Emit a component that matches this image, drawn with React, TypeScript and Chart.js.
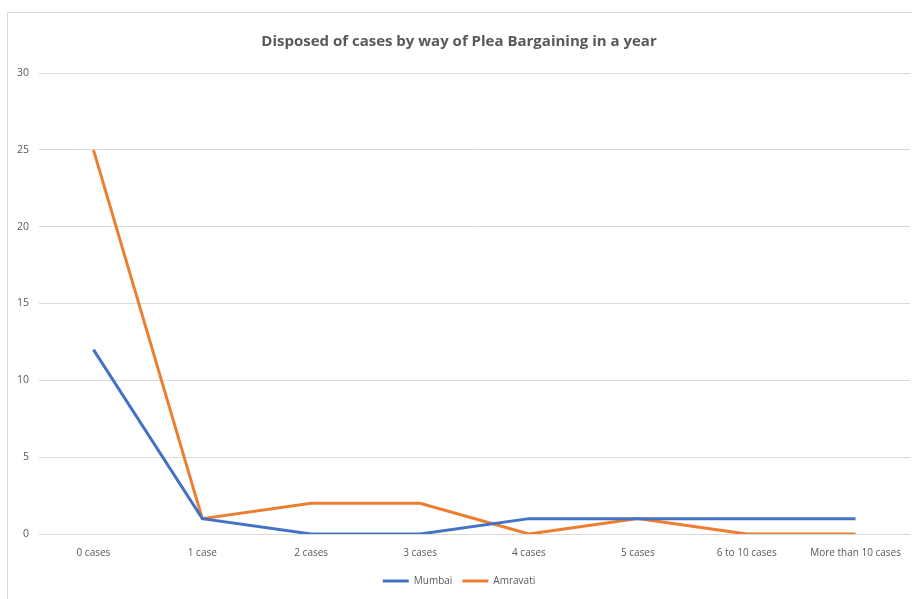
import React, { useEffect, useRef } from "react";
import { Chart, registerables } from "chart.js";

Chart.register(...registerables);

const categories = [
  "0 cases",
  "1 case",
  "2 cases",
  "3 cases",
  "4 cases",
  "5 cases",
  "6 to 10 cases",
  "More than 10 cases",
];
const mumbai = [12, 1, 0, 0, 1, 1, 1, 1];
const amravati = [25, 1, 2, 2, 0, 1, 0, 0];
const titleText = "Disposed of cases by way of Plea Bargaining in a year";

const FONT = "'Open Sans', 'Noto Sans', sans-serif";
const TEXT = "#595959";

export default function App() {
  const ref = useRef<HTMLCanvasElement | null>(null);
  useEffect(() => {
    if (!ref.current) return;
    const chart = new Chart(ref.current, {
      type: "line",
      data: {
        labels: categories,
        datasets: [
          {
            label: "Mumbai",
            data: mumbai,
            borderColor: "#4472C4",
            backgroundColor: "#4472C4",
            borderWidth: 3,
            pointRadius: 0,
            tension: 0,
          },
          {
            label: "Amravati",
            data: amravati,
            borderColor: "#ED7D31",
            backgroundColor: "#ED7D31",
            borderWidth: 3,
            pointRadius: 0,
            tension: 0,
          },
        ],
      },
      options: {
        animation: false,
        responsive: false,
        maintainAspectRatio: false,
        layout: { padding: { left: 8, right: 2, top: 12, bottom: 3 } },
        plugins: {
          title: {
            display: true,
            text: titleText,
            color: TEXT,
            font: { family: FONT, size: 15, weight: "bold" },
            padding: { top: 21, bottom: 22 },
          },
          legend: {
            position: "bottom",
            labels: {
              usePointStyle: true,
              pointStyle: "line",
              pointStyleWidth: 26,
              color: TEXT,
              font: { family: FONT, size: 10 },
              padding: 10,
            },
          },
          tooltip: { enabled: false },
        },
        scales: {
          x: {
            offset: true,
            afterFit: (scale: any) => {
              scale.height = scale.height + 2;
            },
            grid: { display: false },
            border: { display: false },
            ticks: {
              color: TEXT,
              font: { family: FONT, size: 10 },
              padding: 5,
              maxRotation: 0,
              autoSkip: false,
            },
          },
          y: {
            min: 0,
            max: 30,
            afterFit: (scale: any) => {
              scale.width = 31;
            },
            grid: { color: "#d9d9d9", drawTicks: false },
            border: { display: false },
            ticks: {
              stepSize: 5,
              color: TEXT,
              font: { family: FONT, size: 10.5 },
              padding: 10,
            },
          },
        },
      },
    });
    return () => chart.destroy();
  }, []);
  return (
    <div style={{ position: "fixed", left: 0, top: 0, width: 912, height: 599, background: "#fff" }}>
      <div
        style={{
          position: "absolute",
          left: 7,
          top: 12,
          width: 920,
          height: 600,
          border: "1px solid #d9d9d9",
          boxSizing: "border-box",
        }}
      />
      <canvas ref={ref} width={912} height={599} style={{ position: "absolute", left: 0, top: 0 }} />
    </div>
  );
}
